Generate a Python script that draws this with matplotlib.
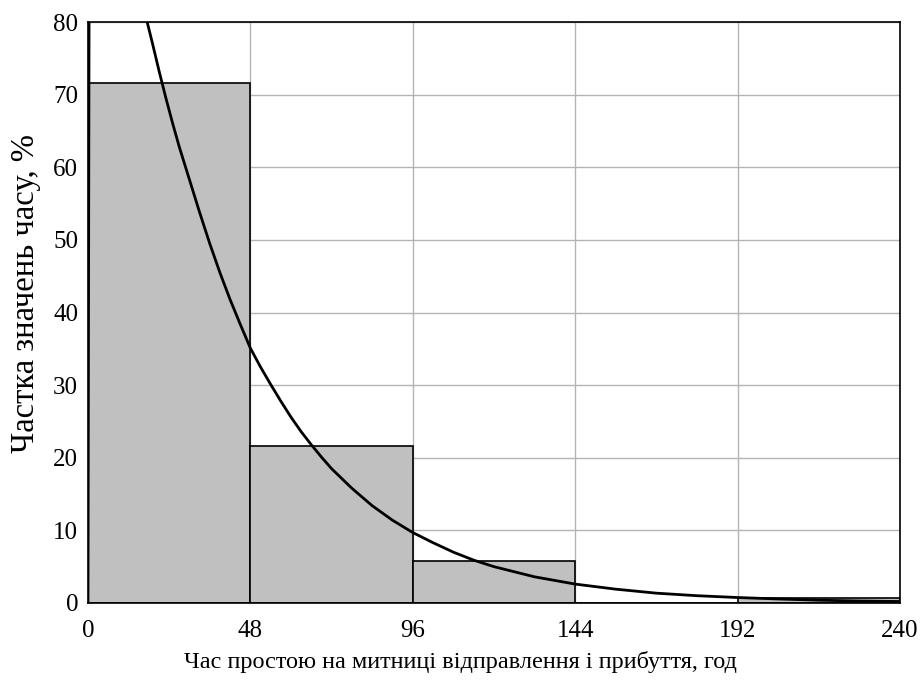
import numpy as np
import matplotlib
matplotlib.use("Agg")
import matplotlib.pyplot as plt

# histogram of idle times (hours), share in %
bin_left = [0, 48, 96, 144, 192]
bin_width = 48
bar_share = [71.6, 21.6, 5.8, 0.0, 0.7]

# fitted density curve
curve_x = [0, 0.8, 10, 17.5, 19, 21, 23, 25, 27, 30, 33, 36, 39, 42, 45, 48,
           51, 54, 57, 60, 63, 66, 69, 72, 78, 84, 90, 96, 102, 108, 114, 120,
           126, 132, 138, 144, 156, 168, 180, 192, 204, 216, 228, 240]
curve_y = [0, 200, 98, 80, 77.2, 73.3, 69.6, 66.1, 62.8, 58.3, 53.8, 49.5, 45.5,
           41.8, 38.4, 35.1, 32.5, 30.1, 27.8, 25.6, 23.6, 21.8, 20.1, 18.5, 15.8,
           13.4, 11.4, 9.7, 8.3, 7.0, 5.9, 5.0, 4.3, 3.6, 3.1, 2.6, 1.9, 1.35, 1.0,
           0.75, 0.55, 0.38, 0.27, 0.2]

x_ticks = [0, 48, 96, 144, 192, 240]
y_ticks = [0, 10, 20, 30, 40, 50, 60, 70, 80]

plt.rcParams['font.family'] = ['Liberation Serif', 'DejaVu Serif']

fig = plt.figure(figsize=(9.23, 6.91), dpi=100)
ax = fig.add_axes([0.0953, 0.1274, 0.8797, 0.8406])

ax.grid(True, color='#b4b4b4', linewidth=1.0)
ax.set_axisbelow(True)

ax.bar(bin_left, bar_share, width=bin_width, align='edge',
       color='#c0c0c0', edgecolor='black', linewidth=1.2, zorder=2)
ax.plot(curve_x, curve_y, color='black', linewidth=2.0, zorder=3)

ax.set_xlim(0, 240)
ax.set_ylim(0, 80)
ax.set_xticks(x_ticks)
ax.set_yticks(y_ticks)
ax.tick_params(length=0, labelsize=18)
ax.tick_params(axis='x', pad=12)
ax.tick_params(axis='y', pad=7)
for s in ax.spines.values():
    s.set_color('black')
    s.set_linewidth(1.2)
    s.set_zorder(4)

ax.set_xlabel('Час простою на митниці відправлення і прибуття, год', fontsize=17.5)
ax.set_ylabel('Частка значень часу, %', fontsize=23.5)
ax.xaxis.set_label_coords(0.459, -0.083)
ax.yaxis.set_label_coords(-0.058, 0.533)

fig.savefig('out.png', dpi=100)
